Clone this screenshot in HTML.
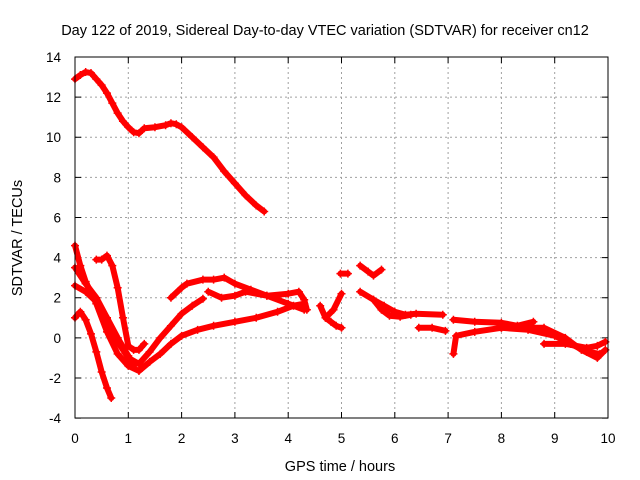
<!DOCTYPE html>
<html><head><meta charset="utf-8"><style>
body{margin:0;background:#fff;}
svg{display:block;font-family:"Liberation Sans",sans-serif;}
</style></head><body>
<svg id="chart" width="640" height="480" viewBox="0 0 640 480">
<rect width="640" height="480" fill="#fff"/>
<text x="325" y="35" font-size="14.5" text-anchor="middle">Day 122 of 2019, Sidereal Day-to-day VTEC variation (SDTVAR) for receiver cn12</text>
<text x="340" y="471" font-size="14.5" text-anchor="middle">GPS time / hours</text>
<text x="22" y="238" font-size="14.5" text-anchor="middle" transform="rotate(-90 22 238)">SDTVAR / TECUs</text>
<g id="grid"></g><g id="ticks"></g><g id="series"></g>
<rect x="75" y="57" width="533" height="361" fill="none" stroke="#000" stroke-width="1"/>
</svg>
<script>
const xTicks=[0,1,2,3,4,5,6,7,8,9,10];
const yTicks=[-4,-2,0,2,4,6,8,10,12,14];
const seg1=[[0,12.9],[0.1,13.1],[0.2,13.25],[0.3,13.2],[0.4,12.9],[0.5,12.6],[0.6,12.2],[0.7,11.7],[0.8,11.2],[0.9,10.8],[1.0,10.5],[1.1,10.25],[1.2,10.2],[1.3,10.45],[1.5,10.5],[1.7,10.6],[1.8,10.7],[1.9,10.65],[2.0,10.5],[2.2,10.0],[2.4,9.5],[2.6,9.0],[2.8,8.3],[3.0,7.7],[3.2,7.1],[3.4,6.6],[3.55,6.3]];
const seg2=[[0,1.0],[0.1,1.3],[0.2,0.9],[0.3,0.2],[0.4,-0.7],[0.5,-1.7],[0.6,-2.5],[0.68,-3.0]];
const seg3=[[0,4.6],[0.1,3.6],[0.2,2.8],[0.4,1.7],[0.6,0.3],[0.8,-0.8],[1.0,-1.4],[1.2,-1.65],[1.4,-1.2],[1.6,-0.8],[1.8,-0.3],[2.0,0.1],[2.3,0.4],[2.6,0.6],[3.0,0.8],[3.4,1.0],[3.8,1.3],[4.1,1.6],[4.3,1.7]];
const seg4=[[0,3.5],[0.2,2.7],[0.4,2.0],[0.6,1.0],[0.8,-0.2],[1.0,-1.0],[1.2,-1.3],[1.4,-0.7],[1.6,0.0],[1.8,0.6],[2.0,1.2],[2.2,1.6],[2.4,1.95]];
const seg5=[[0,2.6],[0.2,2.3],[0.4,1.8],[0.6,1.0],[0.8,0.0],[1.0,-0.9],[1.1,-1.4]];
const seg6=[[0.4,3.9],[0.5,3.9],[0.6,4.1],[0.7,3.6],[0.8,2.5],[0.9,1.0],[1.0,-0.4],[1.1,-0.6],[1.2,-0.6],[1.3,-0.3]];
const seg7=[[1.8,2.0],[2.0,2.5],[2.1,2.7],[2.4,2.9],[2.6,2.9],[2.8,3.0],[3.0,2.7],[3.3,2.4],[3.6,2.1],[4.0,2.2],[4.2,2.3],[4.3,1.9],[4.35,1.4]];
const seg8=[[2.5,2.3],[2.75,2.0],[3.0,2.1],[3.2,2.3],[3.6,2.1],[4.0,1.7],[4.3,1.4]];
const seg9=[[4.6,1.6],[4.7,1.0],[4.8,0.8],[4.9,0.6],[5.0,0.5]];
const seg10=[[4.7,1.0],[4.85,1.4],[5.0,2.2]];
const seg11=[[4.98,3.2],[5.12,3.2]];
const seg12=[[5.35,3.6],[5.5,3.3],[5.6,3.1],[5.75,3.4]];
const seg13=[[5.35,2.3],[5.6,1.9],[5.8,1.6],[6.0,1.3],[6.2,1.15],[6.4,1.2],[6.9,1.15]];
const seg14=[[5.6,1.9],[5.75,1.4],[5.9,1.1],[6.1,1.05],[6.3,1.15]];
const seg15=[[6.45,0.5],[6.7,0.5],[6.95,0.35]];
const seg16=[[7.1,0.9],[7.5,0.8],[8.0,0.75],[8.3,0.6],[8.6,0.8]];
const seg17=[[7.1,-0.8],[7.15,0.1],[7.5,0.3],[8.0,0.5],[8.5,0.4],[9.0,0.1],[9.3,-0.3],[9.6,-0.7],[9.85,-0.8]];
const seg18=[[8.0,0.5],[8.8,0.5],[9.2,0.0],[9.5,-0.6],[9.8,-1.0],[9.95,-0.6]];
const seg19=[[8.8,-0.3],[9.2,-0.3],[9.6,-0.5],[9.8,-0.4],[9.95,-0.2]];
const segments=[seg1,seg2,seg3,seg4,seg5,seg6,seg7,seg8,seg9,seg10,seg11,seg12,seg13,seg14,seg15,seg16,seg17,seg18,seg19];

const X=h=>75+h*53.3, Y=v=>57+(14-v)*20.06;
const ns='http://www.w3.org/2000/svg';
const grid=document.getElementById('grid'),ticks=document.getElementById('ticks'),ser=document.getElementById('series');
function mk(tag,attrs,parent){const e=document.createElementNS(ns,tag);for(const k in attrs)e.setAttribute(k,attrs[k]);parent.appendChild(e);return e;}
xTicks.forEach(t=>{
  if(t>0&&t<10){const g=mk('line',{x1:X(t),x2:X(t),y1:57,y2:418,stroke:'#a0a0a0','stroke-dasharray':'2,3'},grid);
  
  }
  const tk=mk('path',{d:`M${X(t)},418v-6M${X(t)},57v6`,stroke:'#000'},ticks);
  
  
  const l=mk('text',{x:X(t),y:443,'font-size':13.5,'text-anchor':'middle'},ticks);l.textContent=t;
  
  
});
yTicks.forEach(t=>{
  if(t>-4&&t<14){const g=mk('line',{x1:75,x2:608,y1:Y(t),y2:Y(t),stroke:'#a0a0a0','stroke-dasharray':'2,3'},grid);
  
  }
  const tk=mk('path',{d:`M75,${Y(t)}h6M608,${Y(t)}h-6`,stroke:'#000'},ticks);
  
  
  const l=mk('text',{x:61,y:Y(t)+5,'font-size':13.5,'text-anchor':'end'},ticks);l.textContent=t;
  
  
});
segments.forEach(s=>{
  const p=mk('polyline',{points:s.map(d=>X(d[0])+','+Y(d[1])).join(' '),fill:'none',stroke:'#f00','stroke-width':6,'stroke-linejoin':'round','stroke-linecap':'round'},ser);
  
  
  s.forEach(d=>{
    const m=mk('path',{d:`M${X(d[0])-4},${Y(d[1])}h8M${X(d[0])},${Y(d[1])-4}v8`,stroke:'#f00','stroke-width':1.5},ser);
    
    
  });
});
</script>
</body></html>
